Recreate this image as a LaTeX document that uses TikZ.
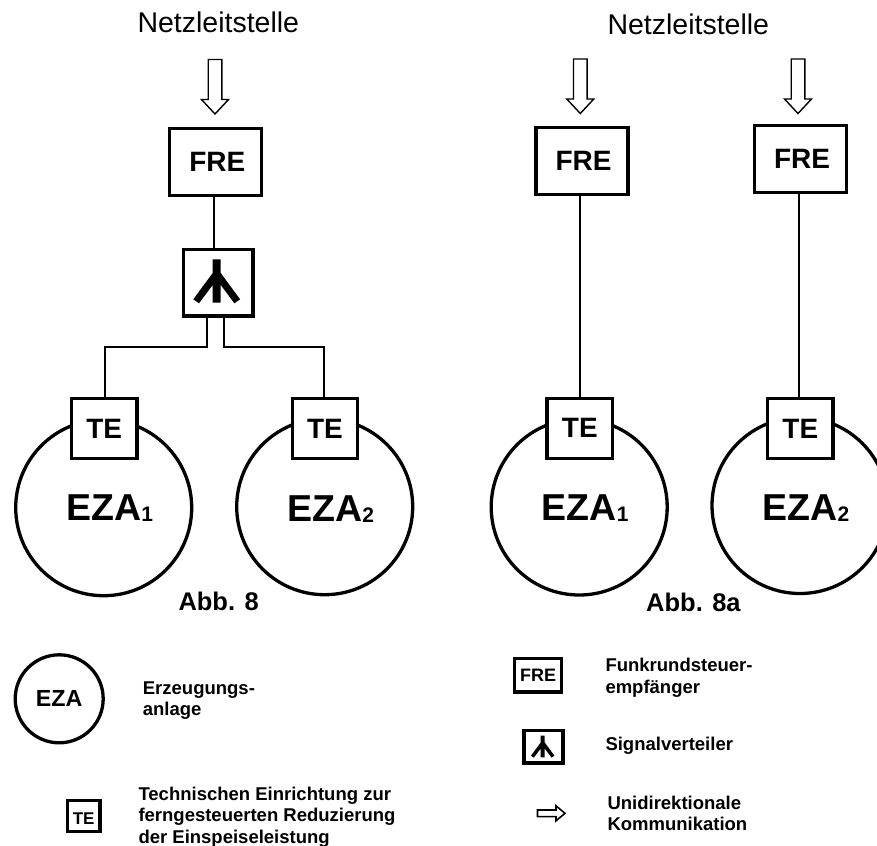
\documentclass[tikz,border=0pt]{standalone}
\usepackage{fontspec}
\setmainfont{Liberation Sans}
\tikzset{
  x=1pt,y=-1pt,
  thickbox/.style={draw,line width=3.3pt,fill=white,inner sep=0pt,outer sep=0pt,font=\bfseries},
  frebox/.style={thickbox,minimum width=92pt,minimum height=67pt,font=\fontsize{28}{28}\bfseries\selectfont},
  tebox/.style={thickbox,minimum width=65.5pt,minimum height=60pt,font=\fontsize{28}{28}\bfseries\selectfont},
  splitbox/.style={thickbox,minimum width=69.5pt,minimum height=66.5pt},
  plant/.style={circle,draw,line width=3.3pt,inner sep=0pt,outer sep=0pt,minimum size=176pt,text depth=0pt,font=\fontsize{37.5}{37.5}\bfseries\selectfont},
  link/.style={line width=1.7pt},
  title/.style={inner sep=0pt,anchor=base west,font=\fontsize{28.5}{28.5}\selectfont},
  caption/.style={inner sep=0pt,anchor=base west,font=\fontsize{25.5}{25.5}\bfseries\selectfont},
  legendtext/.style={inner sep=0pt,anchor=base west,font=\fontsize{18.5}{21.5}\bfseries\selectfont,align=left},
  splitsym/.pic={\fill (-4,-21.7)--(-4,-8)--(-23.4,18.3)--(-17.7,22.3)--(-4,4)--(-4,21.7)--(4,21.7)--(4,4)--(17.7,22.3)--(23.4,18.3)--(4,-8)--(4,-21.7)--cycle;},
  inflow/.pic={\draw[line width=1.4pt,fill=white] (0,0)--(-13.5,-14.5)--(-6.8,-14.5)--(-6.8,-54.5)--(6.8,-54.5)--(6.8,-14.5)--(13.5,-14.5)--cycle;},
  legendarrow/.pic={\draw[line width=1.6pt,fill=white] (0,0)--(-9,-7.5)--(-9,-3.3)--(-27.5,-3.3)--(-27.5,3.3)--(-9,3.3)--(-9,7.5)--cycle;}
}
\newcommand{\ezasub}[1]{\hspace*{12pt}EZA\raisebox{-1pt}{\fontsize{21}{21}\bfseries\selectfont #1}}
\begin{document}
\begin{tikzpicture}
\clip (0,0) rectangle (877,845);
% titles
\node[title] (nl1) at (137.3,32.3) {Netzleitstelle};
\node[title] (nl2) at (607.3,35) {Netzleitstelle};
% left diagram
\pic at (215,114) {inflow};
\node[frebox] (fre1) at (215.8,162.3) {\hspace*{3pt}FRE};
\node[splitbox] (split) at (218.1,282.8) {};
\pic at (216.7,281) {splitsym};
\node[plant,text height=26pt] (eza1) at (103.7,507.7) {\ezasub{1}};
\node[plant,text height=28.6pt] (eza2) at (324.7,506.7) {\ezasub{2}};
\node[tebox] (te1) at (104.2,428.7) {TE};
\node[tebox] (te2) at (325,428.7) {TE};
\draw[link] ([xshift=-1.8pt]fre1.south) -- ([xshift=-1.8pt]fre1.south |- split.north);
\draw[link] ([xshift=-11.4pt]split.south) -- ++(0,31) -| ([xshift=.8pt]te1.north);
\draw[link] ([xshift=5.9pt]split.south) -- ++(0,31) -| ([xshift=-.7pt]te2.north);
\node[caption] (cap1) at (178.3,610.7) {Abb. 8};
% right diagram
\pic at (580.3,113.5) {inflow};
\pic at (798,113.5) {inflow};
\node[frebox] (fre2) at (582,161.3) {\hspace*{3pt}FRE};
\node[frebox] (fre3) at (800.5,159.3) {\hspace*{3pt}FRE};
\node[plant,text height=26pt] (eza3) at (579.2,507) {\ezasub{1}};
\node[plant,text height=29pt] (eza4) at (800,505.5) {\ezasub{2}};
\node[tebox] (te3) at (579.8,428.3) {TE};
\node[tebox] (te4) at (800.3,428.7) {TE};
\draw[link] ([xshift=-1.7pt]fre2.south) -- ([xshift=-1.7pt]fre2.south |- te3.north);
\draw[link] ([xshift=-1.2pt]fre3.south) -- ([xshift=-1.2pt]fre3.south |- te4.north);
\node[caption] (cap2) at (646,611.7) {Abb. 8a};
% legend
\node[circle,draw,line width=3.3pt,inner sep=0pt,outer sep=0pt,minimum size=88pt,font=\fontsize{23.3}{23.3}\bfseries\selectfont] (leza) at (59.2,698.8) {EZA};
\node[legendtext] (t1) at (142.7,694.3) {Erzeugungs-};
\node[legendtext] (t1b) at (142.7,715.7) {anlage};
\node[thickbox,line width=3.6pt,minimum width=32.7pt,minimum height=31.2pt,text height=16.2pt,text depth=0pt,font=\fontsize{17}{17}\bfseries\selectfont] (lte) at (83.7,816) {TE};
\node[legendtext] (t2) at (138.3,800) {Technischen Einrichtung zur};
\node[legendtext] (t2b) at (138.3,821.7) {ferngesteuerten Reduzierung};
\node[legendtext] (t2c) at (138.3,843.3) {der Einspeiseleistung};
\node[thickbox,line width=3.6pt,minimum width=47pt,minimum height=33.5pt,font=\fontsize{18}{18}\bfseries\selectfont] (lfre) at (538,675.3) {FRE};
\node[legendtext] (t3) at (605.3,671) {Funkrundsteuer-};
\node[legendtext] (t3b) at (605.3,693.3) {empfänger};
\node[thickbox,line width=3.6pt,minimum width=39.2pt,minimum height=32.8pt] (lsplit) at (543.3,746.8) {};
\pic[scale=.5] at (542.7,746.5) {splitsym};
\node[legendtext] (t4) at (605.3,750.3) {Signalverteiler};
\pic at (565,813.3) {legendarrow};
\node[legendtext] (t5) at (607.3,809) {Unidirektionale};
\node[legendtext] (t5b) at (607.3,830) {Kommunikation};
\end{tikzpicture}
\end{document}
